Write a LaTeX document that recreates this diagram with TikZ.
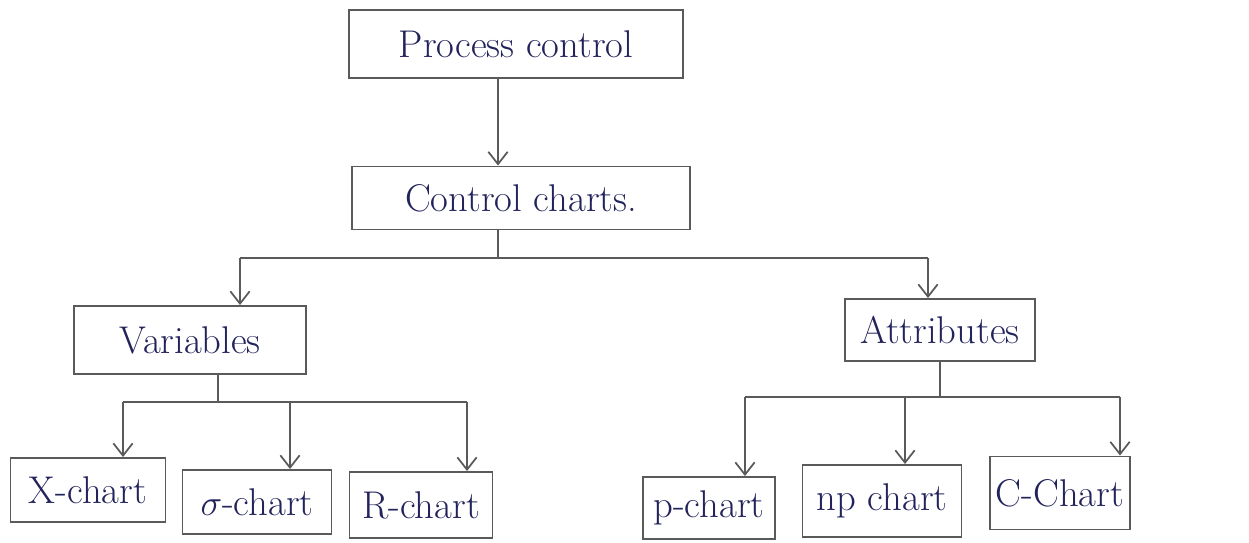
\documentclass[tikz,border=0pt]{standalone}
\usepackage{tikz}
\usetikzlibrary{arrows,arrows.meta,shapes}
\definecolor{ink}{HTML}{23235C}
\definecolor{pencil}{HTML}{5A5A5A}
\tikzstyle{box}=[draw=pencil,line width=1.1pt,rectangle,inner sep=0pt,text=ink,font=\fontsize{22}{26}\selectfont]
\tikzstyle{edge} = [draw=pencil,line width=1pt,-]
\tikzstyle{link} = [draw=pencil,line width=1pt,-{Straight Barb[length=7pt,width=11pt]}]

\begin{document}
\begin{tikzpicture}[x=0.02cm,y=-0.02cm]
    \useasboundingbox (0,0) rectangle (1249,542);
    % The boxes, top to bottom
    \node[box,minimum width=334*0.02cm,minimum height=68*0.02cm] (pc) at (516,44) {Process control};
    \node[box,minimum width=338*0.02cm,minimum height=63*0.02cm] (cc) at (521,198) {Control charts.};
    \node[box,minimum width=232*0.02cm,minimum height=68*0.02cm] (var) at (190,340) {Variables};
    \node[box,minimum width=190*0.02cm,minimum height=62*0.02cm] (att) at (940,330) {Attributes};
    \foreach \pos/\name/\w/\h/\txt in {{(88,490)/x/155/64/X-chart}, {(257,502)/s/149/64/$\sigma$-chart},
            {(421,505)/r/143/66/R-chart}, {(709,508)/p/132/62/p-chart},
            {(882,501)/np/159/72/np chart}, {(1060,493)/c/140/73/C-Chart}}
        \node[box,minimum width=\w*0.02cm,minimum height=\h*0.02cm] (\name) at \pos {\txt};
    % Joints of the branches
    \coordinate (ccj) at (498,258);
    \coordinate (vj) at (240,258);
    \coordinate (aj) at (928,258);
    \coordinate (vk) at (218,402);
    \coordinate (xk) at (123,402);
    \coordinate (sk) at (290,402);
    \coordinate (rk) at (467,402);
    \coordinate (ak) at (940,397);
    \coordinate (pk) at (745,397);
    \coordinate (npk) at (905,397);
    \coordinate (ck) at (1120,397);
    % Connect the boxes
    \path[link] (pc.south -| ccj) -- (cc.north -| ccj);
    \path[edge] (cc.south -| ccj) -- (ccj);
    \path[edge] (vj) -- (aj);
    \path[edge] (var.south -| vk) -- (vk);
    \path[edge] (xk) -- (rk);
    \path[edge] (att.south -| ak) -- (ak);
    \path[edge] (pk) -- (ck);
    \foreach \joint/\dest in {vj/var, aj/att, xk/x, sk/s, rk/r, pk/p, npk/np, ck/c}
        \path[link] (\joint) -- (\joint |- \dest.north);

\end{tikzpicture}
\end{document}
